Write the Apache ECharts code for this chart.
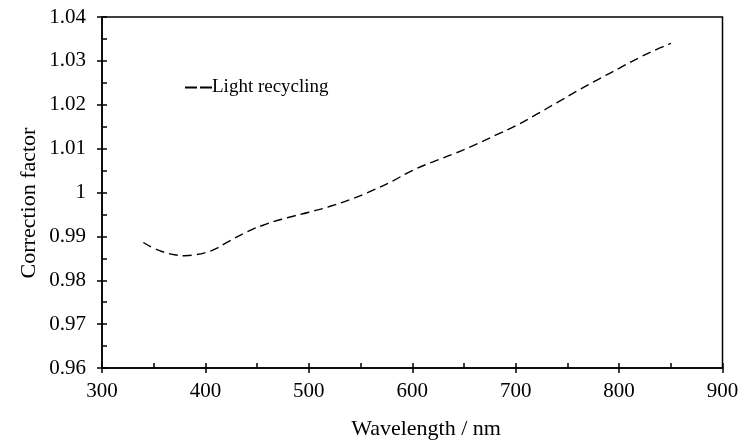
<!DOCTYPE html>
<html>
<head>
<meta charset="utf-8">
<script src="https://cdn.jsdelivr.net/npm/echarts@6/dist/echarts.min.js"></script>
<style>html,body{margin:0;padding:0;background:#fff}#c{width:750px;height:443px}</style>
</head>
<body>
<div id="c"></div>
<script>
const wavelength = [340, 350, 360, 370, 380, 390, 400, 410, 420, 440, 460, 480, 500, 520, 540, 560, 580, 600, 620, 640, 660, 680, 700, 720, 740, 760, 780, 800, 820, 840, 850];
const correction = [0.9886, 0.9873, 0.9864, 0.9858, 0.9856, 0.9858, 0.9863, 0.9872, 0.9885, 0.9910, 0.9929, 0.9943, 0.9955, 0.9968, 0.9984, 1.0003, 1.0025, 1.0050, 1.0070, 1.0088, 1.0108, 1.0130, 1.0152, 1.0178, 1.0205, 1.0232, 1.0258, 1.0283, 1.0308, 1.0330, 1.0340];
const seriesName = 'Light recycling';
const xTitle = 'Wavelength / nm';
const yTitle = 'Correction factor';

const FONT = '"Liberation Serif", "Times New Roman", serif';
const chart = echarts.init(document.getElementById('c'));
const data = wavelength.map((w, i) => [w, correction[i]]);

chart.setOption({
  animation: false,
  backgroundColor: '#fff',
  grid: { left: 102, right: 27.5, top: 17, bottom: 75, show: true, borderColor: '#000', borderWidth: 1.5, containLabel: false },
  legend: {
    left: 180, top: 73, itemWidth: 27, itemHeight: 2,
    data: [{ name: seriesName, icon: 'path://M0,0H12V2H0Z M15,0H27V2H15Z' }],
    itemStyle: { color: '#000' },
    textStyle: { fontFamily: FONT, fontSize: 19, color: '#000', padding: [0, 0, 0, -5] }
  },
  xAxis: [
    {
      type: 'value', min: 300, max: 900, interval: 100,
      axisLine: { lineStyle: { color: '#000', width: 1.5 } },
      axisTick: { inside: true, length: 5, lineStyle: { color: '#000', width: 1.5 } },
      minorTick: { show: true, splitNumber: 2, length: 5, lineStyle: { color: '#000', width: 1.5 } },
      splitLine: { show: false },
      axisLabel: { fontFamily: FONT, fontSize: 21, color: '#000', margin: 13 }
    },
    {
      type: 'value', min: 300, max: 900, interval: 100, position: 'bottom',
      axisLine: { show: false },
      axisTick: { inside: false, length: 5, lineStyle: { color: '#000', width: 1.5 } },
      splitLine: { show: false },
      axisLabel: { show: false }
    }
  ],
  yAxis: [
    {
      type: 'value', min: 0.96, max: 1.04, interval: 0.01,
      axisLine: { show: true, lineStyle: { color: '#000', width: 1.5 } },
      axisTick: { show: true, inside: true, length: 5, lineStyle: { color: '#000', width: 1.5 } },
      minorTick: { show: true, splitNumber: 2, length: 5, lineStyle: { color: '#000', width: 1.5 } },
      splitLine: { show: false },
      axisLabel: { fontFamily: FONT, fontSize: 21, color: '#000', margin: 16,
        formatter: v => String(+v.toFixed(2)) }
    },
    {
      type: 'value', min: 0.96, max: 1.04, interval: 0.01, position: 'left',
      axisLine: { show: false },
      axisTick: { show: true, inside: false, length: 5, lineStyle: { color: '#000', width: 1.5 } },
      splitLine: { show: false },
      axisLabel: { show: false }
    }
  ],
  graphic: [
    { type: 'text', x: 426, y: 429,
      style: { text: xTitle, font: '22px ' + FONT, fill: '#000', align: 'center', verticalAlign: 'middle' } },
    { type: 'text', x: 29, y: 203, rotation: Math.PI / 2,
      style: { text: yTitle, font: '22px ' + FONT, fill: '#000', align: 'center', verticalAlign: 'middle' } }
  ],
  series: [{
    name: seriesName, type: 'line', data: data, smooth: true, showSymbol: false, symbol: 'none',
    lineStyle: { type: [9, 5], width: 1.4, color: '#000' },
    itemStyle: { color: '#000' }
  }]
});
</script>
</body>
</html>
